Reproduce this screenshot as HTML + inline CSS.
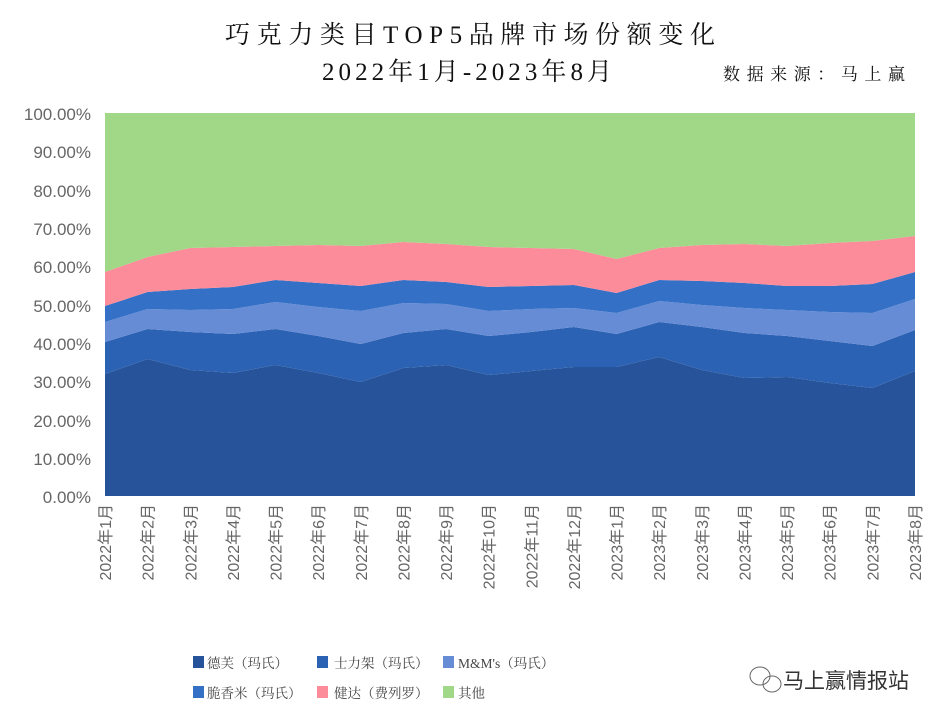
<!DOCTYPE html>
<html><head><meta charset="utf-8"><style>
body{margin:0;background:#fff;width:935px;height:720px;overflow:hidden;font-family:"Liberation Serif","Noto Serif CJK SC",serif}
</style></head><body>
<svg width="935" height="720" xmlns="http://www.w3.org/2000/svg">
<text x="225" y="43" textLength="490" lengthAdjust="spacing" font-size="25" fill="#111" font-family="Liberation Serif,Noto Serif CJK SC,serif">巧克力类目TOP5品牌市场份额变化</text>
<text x="322" y="80" textLength="290" lengthAdjust="spacing" font-size="25" fill="#111" font-family="Liberation Serif,Noto Serif CJK SC,serif">2022年1月-2023年8月</text>
<text x="723" y="80" textLength="182" lengthAdjust="spacing" font-size="17" fill="#111" font-family="Liberation Serif,Noto Serif CJK SC,serif">数据来源：马上赢</text>
<g font-family="Liberation Sans,sans-serif" font-size="17" fill="#666" text-anchor="end">
<text x="91" y="120">100.00%</text><text x="91" y="158">90.00%</text><text x="91" y="197">80.00%</text><text x="91" y="235">70.00%</text><text x="91" y="273">60.00%</text><text x="91" y="312">50.00%</text><text x="91" y="350">40.00%</text><text x="91" y="388">30.00%</text><text x="91" y="427">20.00%</text><text x="91" y="465">10.00%</text><text x="91" y="503">0.00%</text>
</g>
<g id="areas"></g>
<g id="xl" font-family="Liberation Sans,Noto Sans CJK SC,sans-serif" font-size="16" fill="#666"></g>
<g font-size="13.5" fill="#444" font-family="Liberation Serif,Noto Serif CJK SC,serif">
<rect x="193" y="656" width="11" height="12" fill="#26539a"/><text x="207" y="668">德芙（玛氏）</text>
<rect x="317" y="656" width="11" height="12" fill="#2c62b3"/><text x="334" y="668">士力架（玛氏）</text>
<rect x="443" y="656" width="11" height="12" fill="#678cd6"/><text x="458" y="668">M&amp;M's（玛氏）</text>
<rect x="193" y="686" width="11" height="12" fill="#3470c6"/><text x="207" y="698">脆香米（玛氏）</text>
<rect x="317" y="686" width="11" height="12" fill="#fc8c9a"/><text x="334" y="698">健达（费列罗）</text>
<rect x="443" y="686" width="11" height="12" fill="#a0d888"/><text x="458" y="698">其他</text>
</g>
<g fill="none" stroke="#666" stroke-width="1"><ellipse cx="760" cy="676" rx="10" ry="9"/><ellipse cx="772" cy="684" rx="9" ry="8"/></g>
<text x="783" y="688" font-size="21" fill="#333" font-family="Liberation Sans,Noto Sans CJK SC,sans-serif">马上赢情报站</text>
</svg>
<script>
var L1=[374,359,370,373,365,373,382,368,365,375,371,367,367,357,370,378,377,383,388,371];
var L2=[342,329,332,334,329,336,344,333,329,336,332,327,334,322,327,333,336,341,346,330];
var L3=[322,309,310,309,302,307,311,303,304,311,309,308,313,301,305,308,310,312,313,299];
var L4=[306,292,289,287,280,283,286,280,282,287,286,285,293,280,281,283,286,286,284,272];
var L5=[272,257,248,247,246,245,246,242,244,247,248,249,259,248,245,244,246,243,241,236];
var L6=L5.map(function(){return 113});
var X=[];for(var i=0;i<20;i++)X.push(105+i*(810/19));
var layers=[[null,L1,"#26539a"],[L1,L2,"#2c62b3"],[L2,L3,"#678cd6"],[L3,L4,"#3470c6"],[L4,L5,"#fc8c9a"],[L5,L6,"#a0d888"]];
var ns="http://www.w3.org/2000/svg",g=document.getElementById("areas");
layers.forEach(function(l){var top=l[1],bot=l[0],d="M";
for(var i=0;i<20;i++)d+=X[i].toFixed(1)+","+top[i]+" L";
for(var i=19;i>=0;i--)d+=X[i].toFixed(1)+","+(bot?bot[i]:496)+(i?" L":"");
d+="Z";var p=document.createElementNS(ns,"path");p.setAttribute("d",d);p.setAttribute("fill",l[2]);g.appendChild(p);});
var xl=document.getElementById("xl");
for(var i=0;i<20;i++){var y=i<12?2022:2023,m=i<12?i+1:i-11;var t=document.createElementNS(ns,"text");
t.setAttribute("transform","translate("+(X[i]+6)+",504) rotate(-90)");t.setAttribute("text-anchor","end");t.textContent=y+"年"+m+"月";xl.appendChild(t);}
</script>
</body></html>
